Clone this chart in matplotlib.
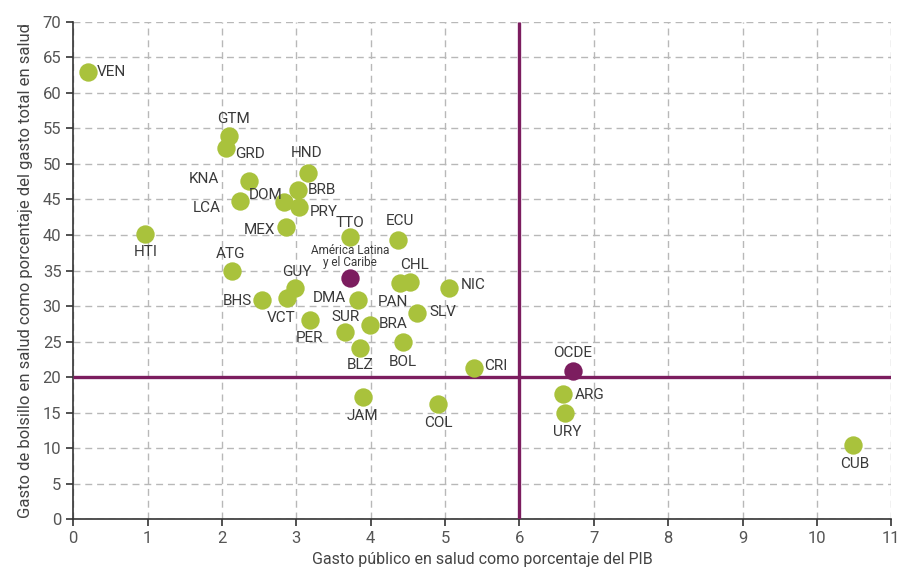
import matplotlib
matplotlib.use("Agg")
import matplotlib.pyplot as plt

plt.rcParams['font.family'] = ['Roboto', 'DejaVu Sans']

codes = ["VEN", "HTI", "GTM", "GRD", "KNA", "LCA", "DOM", "BRB", "PRY", "HND", "MEX",
         "TTO", "ECU", "ATG", "GUY", "VCT", "BHS", "PER", "DMA", "SUR", "BRA", "BLZ",
         "PAN", "CHL", "NIC", "SLV", "BOL", "CRI", "JAM", "COL", "ARG", "URY", "CUB"]
gasto_publico = [0.2, 0.97, 2.1, 2.05, 2.36, 2.24, 2.83, 3.02, 3.04, 3.16, 2.86,
                 3.72, 4.37, 2.14, 2.98, 2.88, 2.54, 3.18, 3.83, 3.66, 3.99, 3.86,
                 4.39, 4.53, 5.05, 4.62, 4.43, 5.39, 3.89, 4.91, 6.59, 6.61, 10.48]
gasto_bolsillo = [63.0, 40.1, 53.9, 52.2, 47.6, 44.8, 44.6, 46.3, 43.9, 48.7, 41.1,
                  39.7, 39.3, 34.9, 32.5, 31.1, 30.8, 28.0, 30.8, 26.3, 27.3, 24.1,
                  33.2, 33.4, 32.5, 29.0, 24.9, 21.3, 17.2, 16.2, 17.6, 14.9, 10.4]

ref_labels = ["América Latina\ny el Caribe", "OCDE"]
ref_x = [3.72, 6.72]
ref_y = [33.9, 20.8]

umbral_x = 6
umbral_y = 20

x_ticks = list(range(0, 12))
y_ticks = list(range(0, 75, 5))

# label offsets in pixels (dx, dy, ha)
offsets = {
    "VEN": (9, 0, "left"), "HTI": (0, -18, "center"), "GTM": (4, 17, "center"),
    "GRD": (9, -6, "left"), "KNA": (-30, 2, "right"), "LCA": (-19, -7, "right"),
    "DOM": (-18, 7, "center"), "BRB": (10, 0, "left"), "PRY": (10, -5, "left"),
    "HND": (-2, 20, "center"), "MEX": (-11, -3, "right"), "TTO": (0, 14, "center"),
    "ECU": (2, 19, "center"), "ATG": (-2, 17, "center"), "GUY": (2, 16, "center"),
    "VCT": (-6, -20, "center"), "BHS": (-10, -1, "right"), "PER": (0, -18, "center"),
    "DMA": (-12, 2, "right"), "SUR": (0, 15, "center"), "BRA": (9, 1, "left"),
    "BLZ": (0, -17, "center"), "PAN": (-7, -19, "center"), "CHL": (4, 17, "center"),
    "NIC": (12, 3, "left"), "SLV": (13, 1, "left"), "BOL": (0, -20, "center"),
    "CRI": (10, 2, "left"), "JAM": (0, -19, "center"), "COL": (0, -19, "center"),
    "ARG": (11, -1, "left"), "URY": (2, -19, "center"), "CUB": (2, -19, "center"),
}

green = "#a9c23c"
purple = "#7c1d5f"
text_col = "#3a3a3a"

fig = plt.figure(figsize=(9.04, 5.75), dpi=100)
ax = fig.add_axes([0.081, 0.097, 0.905, 0.865])

ax.set_xlim(0, 11)
ax.set_ylim(0, 70)
ax.set_xticks(x_ticks)
ax.set_yticks(y_ticks)
ax.grid(True, linestyle=(0, (5, 3.5)), color="#b8b8b8", linewidth=1.0)
ax.set_axisbelow(True)
for s in ["top", "right"]:
    ax.spines[s].set_visible(False)
for s in ["left", "bottom"]:
    ax.spines[s].set_color("#333333")
    ax.spines[s].set_linewidth(1.2)
ax.tick_params(axis="both", colors="#333333", labelcolor="#555555", labelsize=12,
               length=5, width=1.2, direction="out")

ax.plot([umbral_x, umbral_x], [0, 70], color=purple, linewidth=2.4, zorder=3, solid_capstyle="butt")
ax.plot([0, 11], [umbral_y, umbral_y], color=purple, linewidth=2.4, zorder=3, solid_capstyle="butt")

ax.scatter(gasto_publico, gasto_bolsillo, s=175, color=green, zorder=4, linewidths=0)
ax.scatter(ref_x, ref_y, s=175, color=purple, zorder=4, linewidths=0)

for c, x, y in zip(codes, gasto_publico, gasto_bolsillo):
    dx, dy, ha = offsets[c]
    ax.annotate(c, (x, y), xytext=(dx, dy), textcoords="offset pixels",
                ha=ha, va="center", fontsize=11, color=text_col, zorder=5)

ax.annotate(ref_labels[0], (ref_x[0], ref_y[0]), xytext=(0, 22), textcoords="offset pixels",
            ha="center", va="center", fontsize=8.5, color=text_col, zorder=5, linespacing=0.95)
ax.annotate(ref_labels[1], (ref_x[1], ref_y[1]), xytext=(0, 18), textcoords="offset pixels",
            ha="center", va="center", fontsize=11, color=text_col, zorder=5)

ax.set_xlabel("Gasto público en salud como porcentaje del PIB", fontsize=11.5, color="#444444", labelpad=4)
ax.set_ylabel("Gasto de bolsillo en salud como porcentaje del gasto total en salud", fontsize=12,
              color="#444444", labelpad=7)

fig.savefig("out.png", dpi=100)
